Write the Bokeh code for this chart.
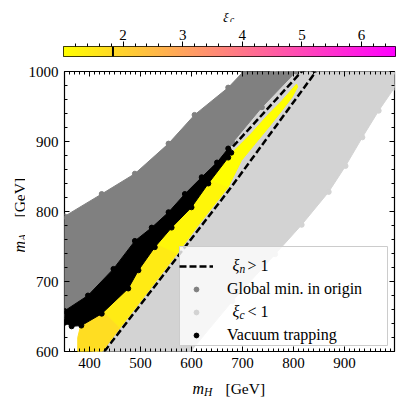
import math
import numpy as np
from bokeh.plotting import figure
from bokeh.models import (LinearAxis, SingleIntervalTicker, FixedTicker, Label, Legend,
                          LegendItem, LinearColorMapper, Span, ColumnDataSource, Range1d,
                          BoxAnnotation)
from bokeh.layouts import column, row
from bokeh.core.properties import value
from bokeh.embed import file_html
from bokeh.resources import INLINE

# ---------------- data ----------------
x_lim = (351, 998)          # m_H [GeV]
y_lim = (600, 1000)         # m_A [GeV]
cbar_lim = (1.0, 6.57)      # xi_c colour range
cbar_ticks = [2, 3, 4, 5, 6]
xi_c_mark = 1.83            # black marker on the colour bar

# "Global min. in origin" region (dark grey)
gm_x = [351, 424, 489, 555, 606, 672, 702, 805, 738, 680, 660, 620, 587, 555, 522, 489, 447, 397, 351]
gm_y = [793, 825, 854, 897, 938, 977, 1000, 1000, 949, 898, 871, 839, 810, 786, 760, 733, 694, 663, 650]

# "xi_c < 1" region (light grey)
lt_x = [760, 700, 640, 560, 480, 430, 400, 410, 598, 680, 764, 816, 869, 902, 935, 967, 998, 998]
lt_y = [1000, 940, 855, 785, 720, 670, 640, 600, 600, 672, 739, 781, 828, 865, 906, 944, 977, 1000]

# "Vacuum trapping" region (black)
vt_x = [351, 397, 447, 489, 522, 555, 587, 620, 650, 672, 678, 672, 633, 600, 561, 528, 496, 476, 424, 384, 365, 351]
vt_y = [658, 680, 718, 758, 777, 799, 825, 849, 870, 890, 884, 877, 840, 806, 777, 749, 716, 690, 654, 637, 636, 641]

# coloured points (xi_c > 1), split in pieces along the band with their xi_c
yel_xs = [
    [377, 377, 384, 424, 460, 425],
    [424, 476, 496, 528, 572, 493, 460],
    [528, 561, 600, 633, 672, 615, 572],
    [633, 672, 685, 718, 751, 777, 806, 808, 797, 777, 751, 725, 698, 672],
]
yel_ys = [
    [600, 620, 641, 660, 634, 600],
    [660, 697, 722, 755, 740, 665, 634],
    [755, 783, 812, 846, 835, 782, 740],
    [846, 880, 888, 912, 939, 958, 982, 978, 963, 944, 920, 897, 873, 835],
]
yel_xi = [1.75, 1.45, 1.2, 1.03]

# xi_n > 1 contour (dashed)
cont_x = [429, 675, 843, 830, 816, 679, 620, 555, 489, 447, 400, 405]
cont_y = [600, 832, 999, 1004, 1000, 891, 844, 793, 741, 708, 640, 595]

# ---------------- styling helpers ----------------
FONT = "Liberation Serif"
GREY, LIGHT = "#808080", "#d3d3d3"
FW, FH = 330, 280                     # main frame size in px
spring_r = ["#%02x%02x%02x" % (255, int(round(255 * (1 - t))), int(round(255 * t)))
            for t in np.linspace(0, 1, 256)]
mapper = LinearColorMapper(palette=spring_r, low=cbar_lim[0], high=cbar_lim[1])


def fx(px):   # frame pixel -> data x
    return x_lim[0] + px / FW * (x_lim[1] - x_lim[0])


def fy(py):   # frame pixel (from bottom) -> data y
    return y_lim[0] + py / FH * (y_lim[1] - y_lim[0])


def style_axis(ax, ticker, labels=True, tin=5, tmin=3):
    ax.ticker = ticker
    ax.major_tick_in = tin
    ax.major_tick_out = 0
    ax.minor_tick_in = tmin
    ax.minor_tick_out = 0
    ax.axis_line_color = None
    ax.major_tick_line_color = "black"
    ax.minor_tick_line_color = "black"
    ax.major_label_text_font = FONT
    ax.major_label_text_color = "black"
    if labels:
        ax.major_label_text_font_size = "15px"
        ax.major_label_standoff = 6
    else:
        ax.major_label_text_font_size = "0px"
        ax.major_label_text_alpha = 0
        ax.major_label_standoff = 0


def add_text(fig, x, y, txt, size, italic=False, angle=0.0):
    fig.add_layout(Label(x=x, y=y, text=txt,
                         text_font=FONT, text_font_size=f"{size}px",
                         text_font_style="italic" if italic else "normal",
                         text_color="black", text_baseline="alphabetic",
                         text_align="left", angle=angle))


def text_panel(fw, fh, x0, x1, y_bottom, y_top, left=0, right=0, top=0, bottom=0):
    f = figure(frame_width=fw, frame_height=fh, x_range=Range1d(x0, x1),
               y_range=Range1d(y_bottom, y_top), x_axis_type=None, y_axis_type=None,
               toolbar_location=None, output_backend="svg",
               min_border_left=left, min_border_right=right,
               min_border_top=top, min_border_bottom=bottom)
    f.outline_line_color = None
    f.grid.visible = False
    return f


# ---------------- colour-bar title ----------------
lab_top = text_panel(332, 22, 63, 395, 22, 0, left=63, right=3)
add_text(lab_top, 222.5, 16.5, "ξ", 13.5, italic=True)
add_text(lab_top, 229.5, 19.0, "c", 9.5, italic=True)

# ---------------- colour bar figure ----------------
pc = figure(frame_width=332, frame_height=10, x_range=Range1d(*cbar_lim), y_range=Range1d(0, 1),
            x_axis_location="above", toolbar_location=None, output_backend="svg",
            min_border_left=63, min_border_right=3, min_border_top=24, min_border_bottom=5)
pc.yaxis.visible = False
pc.grid.visible = False
pc.outline_line_color = "black"
pc.outline_line_width = 1
ramp = np.linspace(cbar_lim[0], cbar_lim[1], 256).reshape(1, -1)
pc.image(image=[ramp], x=cbar_lim[0], y=0, dw=cbar_lim[1] - cbar_lim[0], dh=1, color_mapper=mapper)
pc.add_layout(Span(location=xi_c_mark, dimension="height", line_color="black", line_width=2))
minor_cb = [round(1 + 0.2 * i, 1) for i in range(1, 28)]
cax = pc.xaxis[0]
cax.ticker = FixedTicker(ticks=cbar_ticks, minor_ticks=minor_cb)
cax.major_tick_out = 5
cax.major_tick_in = 0
cax.minor_tick_out = 3
cax.minor_tick_in = 0
cax.axis_line_color = None
cax.major_label_text_font = FONT
cax.major_label_text_font_size = "15px"
cax.major_label_text_color = "black"
cax.major_label_standoff = 2

# ---------------- main figure ----------------
p = figure(frame_width=FW, frame_height=FH, x_range=Range1d(*x_lim), y_range=Range1d(*y_lim),
           toolbar_location=None, output_backend="svg",
           min_border_left=38, min_border_right=5, min_border_top=10, min_border_bottom=22)
p.grid.visible = False
p.outline_line_color = "black"
p.outline_line_width = 1.2

style_axis(p.xaxis[0], SingleIntervalTicker(interval=100, num_minor_ticks=10))
style_axis(p.yaxis[0], SingleIntervalTicker(interval=100, num_minor_ticks=5))
top_ax = LinearAxis()
right_ax = LinearAxis()
style_axis(top_ax, SingleIntervalTicker(interval=100, num_minor_ticks=10), labels=False)
style_axis(right_ax, SingleIntervalTicker(interval=100, num_minor_ticks=5), labels=False)
p.add_layout(top_ax, "above")
p.add_layout(right_ax, "right")

p.patch(lt_x, lt_y, fill_color=LIGHT, line_color=LIGHT, line_width=1)
r_lt = p.scatter(lt_x, lt_y, size=5, color=LIGHT)
p.patch(gm_x, gm_y, fill_color=GREY, line_color=GREY, line_width=1)
r_gm = p.scatter(gm_x, gm_y, size=5, color=GREY)
r_cont = p.line(cont_x, cont_y, line_color="black", line_width=2.5, line_dash="7 3")
ysrc = ColumnDataSource(dict(xs=yel_xs, ys=yel_ys, xi=yel_xi))
p.patches("xs", "ys", source=ysrc,
          fill_color={"field": "xi", "transform": mapper},
          line_color={"field": "xi", "transform": mapper}, line_width=1)
p.patch(vt_x, vt_y, fill_color="black", line_color="black", line_width=1)
r_vt = p.scatter(vt_x, vt_y, size=5, color="black")

# legend box (drawn separately so the math labels can sit on top of it)
p.add_layout(BoxAnnotation(left=fx(115), right=fx(323), bottom=fy(6), top=fy(105),
                           fill_color="white", fill_alpha=0.8,
                           line_color="#cccccc", line_alpha=1.0, line_width=1))

legend = Legend(items=[
    LegendItem(label=value(" "), renderers=[r_cont]),
    LegendItem(label=value("Global min. in origin"), renderers=[r_gm]),
    LegendItem(label=value("  "), renderers=[r_lt]),
    LegendItem(label=value("Vacuum trapping"), renderers=[r_vt]),
], location=(115, 6))
legend.border_line_color = None
legend.background_fill_alpha = 0
legend.padding = 5
legend.spacing = 3
legend.margin = 0
legend.glyph_width = 34
legend.glyph_height = 12
legend.label_height = 20
legend.label_width = 150
legend.label_standoff = 14
legend.label_text_font = FONT
legend.label_text_font_size = "16px"
legend.label_text_color = "black"
p.add_layout(legend)

# legend math labels
add_text(p, fx(168), fy(86), "ξ", 16, italic=True)
add_text(p, fx(175), fy(83), "n", 11.5, italic=True)
add_text(p, fx(183), fy(86), ">  1", 16)
add_text(p, fx(168), fy(40), "ξ", 16, italic=True)
add_text(p, fx(175), fy(37), "c", 11.5, italic=True)
add_text(p, fx(183), fy(40), "<  1", 16)

# ---------------- axis-label panels ----------------
lab_left = text_panel(25, FH, 0, 25, 351, 71, top=10, bottom=22)
add_text(lab_left, 19, 252, "m", 16, italic=True, angle=math.pi / 2)
add_text(lab_left, 22, 240.5, "A", 11.5, italic=True, angle=math.pi / 2)
add_text(lab_left, 19, 217, "[GeV]", 15.5, angle=math.pi / 2)

lab_bottom = text_panel(FW, 25, 63, 393, 398, 373, left=63, right=5)
add_text(lab_bottom, 192, 388, "m", 16, italic=True)
add_text(lab_bottom, 203.5, 391, "H", 11.5, italic=True)
add_text(lab_bottom, 225, 388, "[GeV]", 15.5)

layout = column(lab_top, pc, row(lab_left, p), lab_bottom)
open("out.html", "w").write(file_html(layout, INLINE))
